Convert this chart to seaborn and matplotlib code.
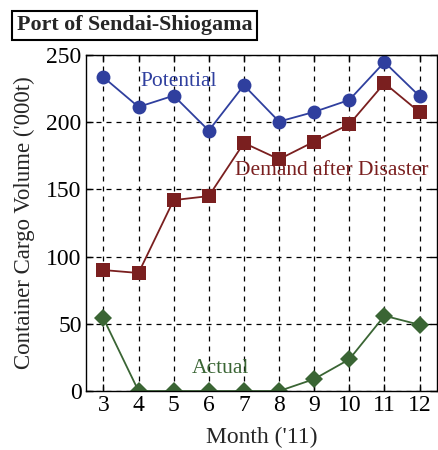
import matplotlib
matplotlib.use("Agg")
import matplotlib.pyplot as plt
import seaborn as sns
import pandas as pd

months = [3, 4, 5, 6, 7, 8, 9, 10, 11, 12]
potential = [233.4, 211.3, 219.7, 193.7, 227.4, 200.4, 207.6, 216.5, 244.6, 219.3]
demand = [90.0, 87.8, 142.0, 145.0, 184.5, 172.4, 185.5, 198.4, 229.0, 207.4]
actual = [54.1, 0, 0, 0, 0, 0, 8.9, 23.6, 56.0, 49.3]
yticks = [0, 50, 100, 150, 200, 250]

sns.set_theme(style="ticks")
plt.rcParams['font.family'] = ['Liberation Serif', 'DejaVu Serif']

fig = plt.figure(figsize=(4.38, 4.5), dpi=100)
ax = fig.add_axes([0.196, 0.131, 0.802, 0.747])

df = pd.DataFrame({"month": months, "Potential": potential,
                   "Demand": demand, "Actual": actual})

blue = "#2f3f9e"
red = "#7a1f1f"
green = "#3a6534"

sns.lineplot(data=df, x="month", y="Potential", ax=ax, color=blue, marker="o",
             markersize=10, markeredgewidth=0, linewidth=1.3)
sns.lineplot(data=df, x="month", y="Demand", ax=ax, color=red, marker="s",
             markersize=10, markeredgewidth=0, linewidth=1.3)
sns.lineplot(data=df, x="month", y="Actual", ax=ax, color=green, marker="D",
             markersize=9, markeredgewidth=0, linewidth=1.3)

ax.set_xlim(2.5, 12.5)
ax.set_ylim(0, 250)
ax.set_xticks(months)
ax.set_yticks(yticks)
ax.tick_params(direction="in", top=True, right=True, labelsize=17, length=5,
               width=1, colors="black", pad=3)
ax.grid(True, linestyle=(0, (4, 4)), color="black", linewidth=0.9)
for s in ax.spines.values():
    s.set_color("black")
    s.set_linewidth(1)
ax.set_xlabel("Month ('11)", fontsize=17, labelpad=8)
ax.set_ylabel("Container Cargo Volume ('000t)", fontsize=16.5, labelpad=8)

ax.text(5.14, 230, "Potential", color=blue, fontsize=15.5, ha="center", va="center")
ax.text(9.5, 164, "Demand after Disaster", color=red, fontsize=15.5, ha="center", va="center")
ax.text(6.33, 17, "Actual", color=green, fontsize=15.5, ha="center", va="center")

fig.text(0.038, 0.944, "Port of Sendai-Shiogama", fontsize=15.8, fontweight="bold",
         ha="left", va="center",
         bbox=dict(boxstyle="square,pad=0.2", facecolor="white", edgecolor="black", linewidth=1.5))

fig.savefig("out.png", dpi=100)
